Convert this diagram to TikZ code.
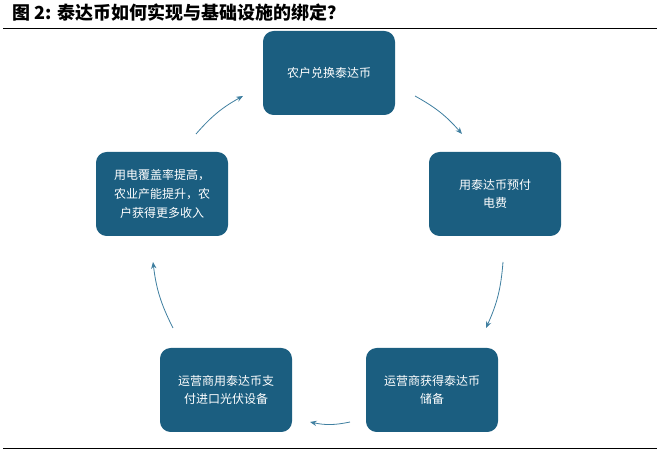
\documentclass[tikz,border=0pt]{standalone}
\usepackage{fontspec}
\setmainfont{Noto Sans CJK SC}
\usetikzlibrary{arrows.meta, positioning}
\definecolor{boxblue}{HTML}{1B5E80}
\definecolor{arrowblue}{HTML}{3F7FA0}
\tikzset{
  stage/.style={rectangle, rounded corners=8pt, fill=boxblue, text=white, minimum width=99pt, minimum height=63pt, text width=88pt, align=center, font=\fontsize{9}{14}\selectfont},
  flow/.style={draw=arrowblue, semithick, -{Stealth[length=5pt, width=4pt]}}
}
\begin{document}
\begin{tikzpicture}[x=0.75pt, y=-0.75pt]
\useasboundingbox (0,0) rectangle (657,466);
\node (title) [anchor=west, font=\fontsize{13.5}{15}\selectfont\bfseries] at (8,13) {图 2: 泰达币如何实现与基础设施的绑定？};
\draw (3,28) -- (657,28);
\draw (3,448) -- (657,448);
\node (exch) [stage] at (329,73) {农户兑换泰达币};
\node (prepay) [stage] at (495,194) {用泰达币预付\\电费};
\node (reserve) [stage] at (432,390) {运营商获得泰达币\\储备};
\node (import) [stage] at (226,390) {运营商用泰达币支\\付进口光伏设备};
\node (income) [stage] at (162,194) {用电覆盖率提高，\\农业产能提升，农\\户获得更多收入};
\coordinate (a1) at (196,134); \coordinate (b1) at (243,96);
\coordinate (a2) at (415,96);  \coordinate (b2) at (462,134);
\coordinate (a3) at (503,262); \coordinate (b3) at (486,328);
\coordinate (a4) at (350,422); \coordinate (b4) at (310,422);
\coordinate (a5) at (173,328); \coordinate (b5) at (153,262);
\draw [flow] (a1) to[bend left=10] (b1);
\draw [flow] (a2) to[bend left=10] (b2);
\draw [flow] (a3) to[bend left=10] (b3);
\draw [flow] (a4) to[bend left=12] (b4);
\draw [flow] (a5) to[bend left=10] (b5);
\end{tikzpicture}
\end{document}
